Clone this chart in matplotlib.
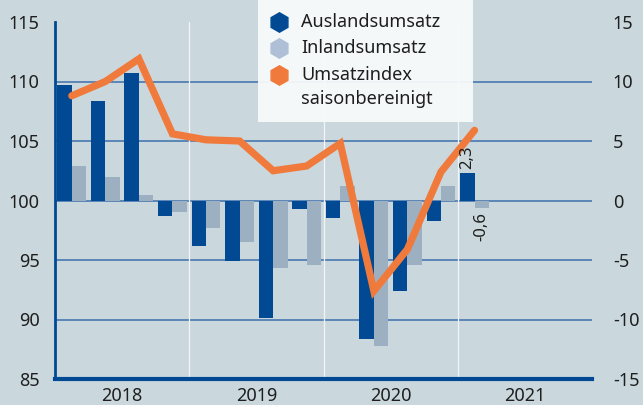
import matplotlib
matplotlib.use("Agg")
import matplotlib.pyplot as plt
from matplotlib.lines import Line2D
from matplotlib.patches import Rectangle
import numpy as np

plt.rcParams['font.family'] = ['Noto Sans', 'DejaVu Sans']
plt.rcParams['axes.unicode_minus'] = False

years = ["2018", "2019", "2020", "2021"]
# quarterly change rates (right axis, %), 2018Q1 .. 2021Q1
ausland = [9.7, 8.4, 10.7, -1.3, -3.8, -5.1, -9.9, -0.7, -1.5, -11.6, -7.6, -1.7, 2.3]
inland = [2.9, 2.0, 0.5, -1.0, -2.3, -3.5, -5.7, -5.4, 1.2, -12.2, -5.4, 1.2, -0.6]
# seasonally adjusted turnover index (left axis)
umsatzindex = [108.8, 110.0, 111.9, 105.6, 105.1, 105.0, 102.5, 102.9, 104.8, 92.4, 95.9, 102.4, 105.9]
labels_legend = ["Auslandsumsatz", "Inlandsumsatz", "Umsatzindex\nsaisonbereinigt"]

BG = '#CAD8DE'
DARK = '#014A93'
LIGHT = '#9CB0C2'
ORANGE = '#F07A3C'
GRID = '#3D6FAB'
TXT = '#1E1E1E'

fig = plt.figure(figsize=(6.43, 4.05), dpi=100)
fig.patch.set_facecolor(BG)
ax = fig.add_axes([55/643, 26/405, (592-55)/643, (379-22)/405])
ax.set_facecolor(BG)

n = len(ausland)
x = np.arange(n)
w = 0.43
ax.set_xlim(-0.5, 15.5)
ax.set_ylim(85, 115)

for v in [90, 95, 100, 105, 110]:
    ax.axhline(v, color=GRID, lw=1.1, zorder=1)
for b in [3.5, 7.5, 11.5]:
    ax.axvline(b, color='#F2F5F7', lw=0.9, zorder=1)

base = 100
ax.bar(x - w/2, ausland, width=w, bottom=base, color=DARK, zorder=2)
ax.bar(x + w/2, inland, width=w, bottom=base, color=LIGHT, zorder=2)
ax.plot(x, umsatzindex, color=ORANGE, lw=5.2, solid_capstyle='round', solid_joinstyle='miter', zorder=3)

# value labels for last quarter
ax.annotate("2,3", (x[-1] - w/2, base + ausland[-1]), xytext=(0, 3), textcoords='offset points',
            rotation=90, ha='center', va='bottom', fontsize=12, color=TXT)
ax.annotate("-0,6", (x[-1] + w/2, base + inland[-1]), xytext=(0, -3), textcoords='offset points',
            rotation=90, ha='center', va='top', fontsize=12, color=TXT)

ax.set_yticks([85, 90, 95, 100, 105, 110, 115])
ax.tick_params(axis='y', length=0, pad=11, labelsize=13, labelcolor=TXT)
ax.set_xticks([1.5, 5.5, 9.5, 13.5])
ax.set_xticklabels(years)
ax.tick_params(axis='x', length=0, pad=6, labelsize=13, labelcolor=TXT)

for s in ['top', 'right']:
    ax.spines[s].set_visible(False)
ax.spines['left'].set_color(DARK)
ax.spines['left'].set_linewidth(2)
ax.spines['bottom'].set_color(DARK)
ax.spines['bottom'].set_linewidth(3)

ax2 = ax.twinx()
ax2.set_ylim(-15, 15)
ax2.set_yticks([-15, -10, -5, 0, 5, 10, 15])
ax2.tick_params(axis='y', length=0, pad=15, labelsize=13, labelcolor=TXT)
for s in ax2.spines.values():
    s.set_visible(False)

# legend box
fig.add_artist(Rectangle((258/643, 1 - 122/405), (473-258)/643, 122/405,
                         transform=fig.transFigure, facecolor='#F8FAFB', edgecolor='none', alpha=0.95, zorder=10))
leg_colors = [DARK, '#AFC0D6', ORANGE]
ys = [22, 48, 75]
for c, yy, lab in zip(leg_colors, ys, labels_legend):
    fig.add_artist(Line2D([279/643], [1 - yy/405], marker='h', markersize=14, color=c, linestyle='none',
                          transform=fig.transFigure, zorder=11))
    fig.text(301/643, 1 - (yy - 9)/405, lab, fontsize=13, color=TXT, va='top', ha='left',
             linespacing=1.45, zorder=11)

fig.savefig("out.png", dpi=100, facecolor=BG)
